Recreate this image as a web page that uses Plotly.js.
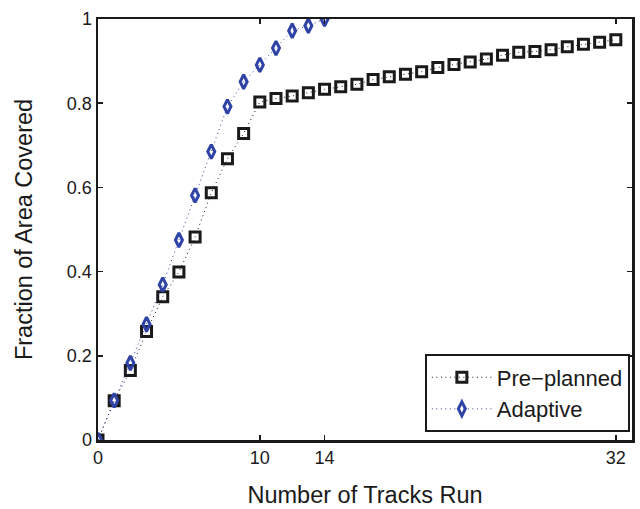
<!DOCTYPE html>
<html>
<head>
<meta charset="utf-8">
<script src="https://cdn.plot.ly/plotly-3.0.1.min.js"></script>
<style>html,body{margin:0;padding:0;background:#fff;}#chart{width:640px;height:509px;}</style>
</head>
<body>
<div id="chart"></div>
<script>
const preTracks = [0,1,2,3,4,5,6,7,8,9,10,11,12,13,14,15,16,17,18,19,20,21,22,23,24,25,26,27,28,29,30,31,32];
const preCoverage = [0,0.093,0.165,0.258,0.340,0.399,0.482,0.587,0.668,0.728,0.803,0.811,0.817,0.825,0.833,0.839,0.845,0.856,0.863,0.869,0.875,0.885,0.892,0.898,0.905,0.914,0.921,0.923,0.927,0.934,0.940,0.945,0.951];
const adaTracks = [0,1,2,3,4,5,6,7,8,9,10,11,12,13,14];
const adaCoverage = [0,0.094,0.183,0.275,0.369,0.475,0.581,0.685,0.792,0.851,0.891,0.931,0.972,0.984,1.0];
const xTicks = [0,10,14,32];
const yTicks = [0,0.2,0.4,0.6,0.8,1];
const yTickLabels = ['0','0.2','0.4','0.6','0.8','1'];

const FONT = 'Liberation Sans, Arial, Helvetica, sans-serif';
const traces = [
  {x: preTracks, y: preCoverage, name: 'Pre\u2212planned', mode: 'lines+markers',
   line: {color: '#1a1a1a', width: 1, dash: '1px,3.5px'},
   marker: {symbol: 'square-open', size: 10, color: '#1a1a1a', line: {width: 3, color: '#1a1a1a'}}},
  {x: adaTracks, y: adaCoverage, name: 'Adaptive', mode: 'lines+markers',
   line: {color: '#2f43a6', width: 1, dash: '1px,3.5px'},
   marker: {symbol: 'diamond-tall-open', size: 10, color: '#2f43a6', line: {width: 3, color: '#2f43a6'}}}
];
const layout = {
  width: 640, height: 509,
  margin: {l: 98, r: 8, t: 19, b: 69},
  paper_bgcolor: '#fff', plot_bgcolor: '#fff',
  font: {family: FONT, color: '#1a1a1a'},
  showlegend: true,
  legend: {x: 0.996, y: 0.018, xanchor: 'right', yanchor: 'bottom',
           bgcolor: '#fff', bordercolor: '#1a1a1a', borderwidth: 2, itemwidth: 60,
           font: {size: 22, family: FONT, color: '#1a1a1a'}, tracegroupgap: 0},
  xaxis: {range: [0, 33], tickvals: xTicks, ticktext: xTicks.map(String),
          showgrid: false, zeroline: false, showline: true, linecolor: '#1a1a1a', linewidth: 2.5,
          mirror: 'ticks', ticks: 'inside', ticklen: 5, tickwidth: 1.5, tickcolor: '#1a1a1a',
          tickfont: {size: 18, family: FONT},
          title: {text: 'Number of Tracks Run', font: {size: 23.5, family: FONT}, standoff: 20}},
  yaxis: {range: [0, 1], tickvals: yTicks, ticktext: yTickLabels,
          showgrid: false, zeroline: false, showline: true, linecolor: '#1a1a1a', linewidth: 2.5,
          mirror: 'ticks', ticks: 'inside', ticklen: 5, tickwidth: 1.5, tickcolor: '#1a1a1a',
          tickfont: {size: 18, family: FONT},
          title: {text: 'Fraction of Area Covered', font: {size: 23.5, family: FONT}, standoff: 28}}
};
Plotly.newPlot('chart', traces, layout, {displayModeBar: false, staticPlot: true});
</script>
</body>
</html>
